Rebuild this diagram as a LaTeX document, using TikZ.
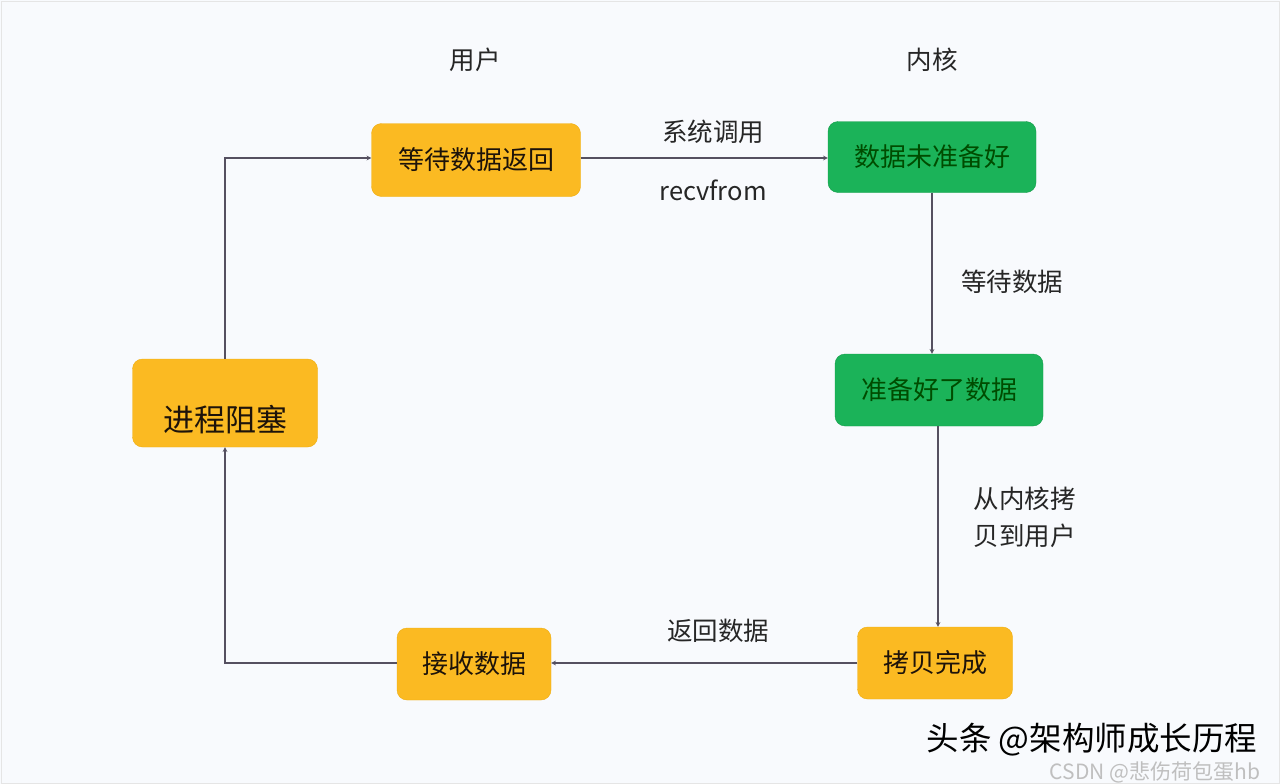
\documentclass[tikz,border=0pt]{standalone}
\usepackage{fontspec}
\setmainfont{Noto Sans CJK SC}
\definecolor{boxorange}{HTML}{FBBA22}
\definecolor{lineorange}{HTML}{EFAE10}
\definecolor{boxgreen}{HTML}{1BB359}
\definecolor{linegreen}{HTML}{139C49}
\definecolor{bgcol}{HTML}{F8FAFD}
\definecolor{arrowcol}{HTML}{555060}
\begin{document}
\begin{tikzpicture}[x=1pt,y=-1pt,
    userbox/.style={draw=lineorange,fill=boxorange,rounded corners=10pt,text=black!85!brown,
        font=\fontsize{26}{30}\selectfont},
    kernbox/.style={draw=linegreen,fill=boxgreen,rounded corners=10pt,text=green!30!black,
        font=\fontsize{26}{30}\selectfont},
    lbl/.style={text=black!85,font=\fontsize{25.5}{37}\selectfont},
    arr/.style={draw=arrowcol,line width=1.1pt,-stealth}]
    \fill[bgcol](0,0)rectangle(1280,784);
    \draw[black!10](1,1)rectangle(1279,783);
    % Spalten
    \node[lbl](user)at(475,60){用户};
    \node[lbl](kern)at(932,60){内核};
    % Kasten
    \node[userbox,minimum width=209pt,minimum height=73pt](wait)at(476,160){等待数据返回};
    \node[kernbox,minimum width=208pt,minimum height=71pt](notready)at(932,157){数据未准备好};
    \node[kernbox,minimum width=208pt,minimum height=72pt](ready)at(939,390){准备好了数据};
    \node[userbox,minimum width=155pt,minimum height=72pt](done)at(935,663){拷贝完成};
    \node[userbox,minimum width=154pt,minimum height=72pt](recv)at(474,664){接收数据};
    \node[userbox,minimum width=185pt,minimum height=88pt,text height=60pt,
        font=\fontsize{31}{36}\selectfont](block)at(225,403){进程阻塞};
    % Pfeile
    \coordinate(c1)at(225,663);
    \coordinate(c2)at(225,158);
    \draw[arr](wait.east|-0,158)--(notready.west|-0,158);
    \draw[arr](notready.south-|932,0)--(ready.north-|932,0);
    \draw[arr](ready.south-|938,0)--(done.north-|938,0);
    \draw[arr](done.west|-0,663)--(recv.east|-0,663);
    \draw[arr](recv.west|-0,663)--(c1)--(block.south);
    \draw[arr](block.north)--(c2)--(wait.west|-0,158);
    % Beschriftung
    \node[lbl](call)at(713,132){系统调用};
    \node[lbl](rf)at(713,190){recvfrom};
    \node[lbl](waitdata)at(1012,282){等待数据};
    \node[lbl,align=left,anchor=west](copy)at(970,517){从内核拷\\贝到用户};
    \node[lbl](back)at(718,631){返回数据};
    \node[inner sep=0pt,font=\fontsize{32.5}{36}\selectfont](mark1)at(1092,740){头条 @架构师成长历程};
    \node[inner sep=0pt,text=black!25,font=\fontsize{21}{24}\selectfont](mark2)at(1155,772){CSDN @悲伤荷包蛋hb};
\end{tikzpicture}
\end{document}
